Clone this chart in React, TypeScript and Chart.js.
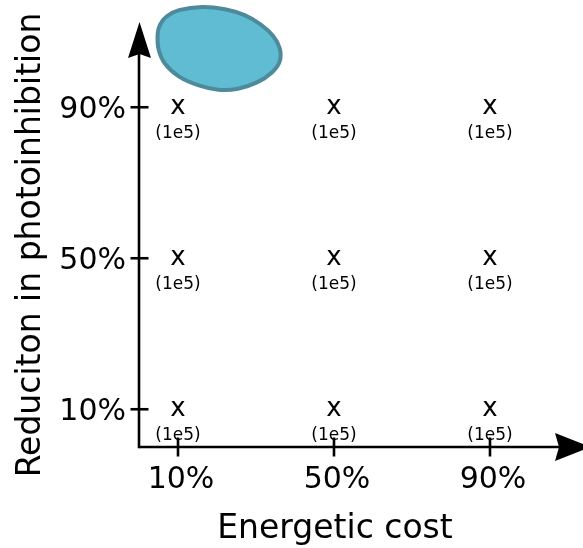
import React, { useEffect, useRef } from "react";
import { Chart, registerables } from "chart.js";

Chart.register(...registerables);

// ---- data ----
const xTickValues = [10, 50, 90];
const xTickLabels = ["10%", "50%", "90%"];
const yTickValues = [10, 50, 90];
const yTickLabels = ["10%", "50%", "90%"];
const pointX = [10, 50, 90, 10, 50, 90, 10, 50, 90];
const pointY = [90, 90, 90, 50, 50, 50, 10, 10, 10];
const markerText = "x";
const pointNotes = ["(1e5)", "(1e5)", "(1e5)", "(1e5)", "(1e5)", "(1e5)", "(1e5)", "(1e5)", "(1e5)"];
const xTitle = "Energetic cost";
const yTitle = "Reduciton in photoinhibition";
// blob outline in data units (drawn above the axes)
const blobX = [4.79, 5.44, 7.05, 10.26, 16.15, 22.05, 27.05, 31.15, 34.41, 36.08, 36.08, 34.0, 30.38, 25.38, 20.33, 15.33, 10.31, 6.67, 5.05];
const blobY = [109.53, 111.92, 114.04, 115.71, 116.56, 115.95, 114.38, 111.97, 108.87, 105.62, 102.17, 99.13, 96.64, 94.91, 94.65, 95.78, 98.12, 101.54, 105.19];

const X_MAX = 113.85;
const Y_MAX = 112.58;

const FONT = '"DejaVu Sans", "Liberation Sans", sans-serif';

const customDraw = {
  id: "customDraw",
  afterDraw(chart: any) {
    const ctx: CanvasRenderingContext2D = chart.ctx;
    const xs = chart.scales.x;
    const ys = chart.scales.y;
    const area = chart.chartArea;
    const x0 = xs.getPixelForValue(0);
    const y0 = ys.getPixelForValue(0);
    ctx.save();
    ctx.strokeStyle = "#000";
    ctx.fillStyle = "#000";
    ctx.lineWidth = 2.6;
    ctx.lineCap = "butt";

    // x axis line + arrow
    const xTip = area.right + 8;
    ctx.beginPath();
    ctx.moveTo(x0, y0);
    ctx.lineTo(xTip - 30, y0);
    ctx.stroke();
    ctx.beginPath();
    ctx.moveTo(xTip, y0);
    ctx.lineTo(xTip - 36, y0 - 14);
    ctx.lineTo(xTip - 32, y0);
    ctx.lineTo(xTip - 36, y0 + 14);
    ctx.closePath();
    ctx.fill();

    // y axis line + arrow
    const yTip = area.top;
    ctx.beginPath();
    ctx.moveTo(x0, y0 + 1.3);
    ctx.lineTo(x0, yTip + 30);
    ctx.stroke();
    ctx.beginPath();
    ctx.moveTo(x0 + 0.5, yTip);
    ctx.lineTo(x0 + 0.5 - 11.5, yTip + 36);
    ctx.lineTo(x0 + 0.5, yTip + 32);
    ctx.lineTo(x0 + 0.5 + 11.5, yTip + 36);
    ctx.closePath();
    ctx.fill();

    // x ticks
    ctx.font = `30px ${FONT}`;
    ctx.textAlign = "center";
    ctx.textBaseline = "alphabetic";
    xTickValues.forEach((v, i) => {
      const px = xs.getPixelForValue(v);
      ctx.beginPath();
      ctx.moveTo(px, y0 - 9.5);
      ctx.lineTo(px, y0 + 9.5);
      ctx.stroke();
      ctx.fillText(xTickLabels[i], px + 3, y0 + 41);
    });

    // y ticks
    ctx.textAlign = "right";
    yTickValues.forEach((v, i) => {
      const py = ys.getPixelForValue(v);
      ctx.beginPath();
      ctx.moveTo(x0 - 8.5, py);
      ctx.lineTo(x0 + 9.5, py);
      ctx.stroke();
      ctx.fillText(yTickLabels[i], x0 - 13, py + 11);
    });

    // axis titles
    ctx.font = `33px ${FONT}`;
    ctx.textAlign = "center";
    ctx.fillText(xTitle, 335, 538);
    ctx.save();
    ctx.translate(40, 245);
    ctx.rotate(-Math.PI / 2);
    ctx.fillText(yTitle, 0, 0);
    ctx.restore();

    // markers and notes
    const meta = chart.getDatasetMeta(0);
    meta.data.forEach((el: any, i: number) => {
      ctx.font = `26px ${FONT}`;
      ctx.textAlign = "center";
      ctx.fillText(markerText, el.x, el.y + 7);
      ctx.font = `17px ${FONT}`;
      ctx.fillText(pointNotes[i], el.x, el.y + 31);
    });

    // blob (closed Catmull-Rom spline)
    const pts = blobX.map((bx, i) => ({ x: xs.getPixelForValue(bx), y: ys.getPixelForValue(blobY[i]) }));
    const n = pts.length;
    ctx.beginPath();
    ctx.moveTo(pts[0].x, pts[0].y);
    for (let i = 0; i < n; i++) {
      const p0 = pts[(i - 1 + n) % n];
      const p1 = pts[i];
      const p2 = pts[(i + 1) % n];
      const p3 = pts[(i + 2) % n];
      const c1x = p1.x + (p2.x - p0.x) / 6;
      const c1y = p1.y + (p2.y - p0.y) / 6;
      const c2x = p2.x - (p3.x - p1.x) / 6;
      const c2y = p2.y - (p3.y - p1.y) / 6;
      ctx.bezierCurveTo(c1x, c1y, c2x, c2y, p2.x, p2.y);
    }
    ctx.closePath();
    ctx.fillStyle = "#5fbcd3";
    ctx.fill();
    ctx.lineWidth = 4;
    ctx.lineJoin = "round";
    ctx.strokeStyle = "#4d8a9b";
    ctx.stroke();

    ctx.restore();
  },
};

export default function App() {
  const ref = useRef<HTMLCanvasElement | null>(null);
  useEffect(() => {
    if (!ref.current) return;
    const chart = new Chart(ref.current, {
      type: "scatter",
      data: {
        datasets: [
          {
            data: pointX.map((x, i) => ({ x, y: pointY[i] })),
            pointRadius: 0,
            pointHoverRadius: 0,
            showLine: false,
          },
        ],
      },
      options: {
        animation: false,
        responsive: false,
        events: [],
        layout: { padding: { left: 139, right: 0, top: 22, bottom: 101 } },
        scales: {
          x: { type: "linear", min: 0, max: X_MAX, display: false },
          y: { type: "linear", min: 0, max: Y_MAX, display: false },
        },
        plugins: { legend: { display: false }, tooltip: { enabled: false } },
      },
      plugins: [customDraw],
    });
    return () => chart.destroy();
  }, []);
  return (
    <div style={{ position: "fixed", left: 0, top: 0, width: 583, height: 548, background: "#fff" }}>
      <canvas ref={ref} width={583} height={548} style={{ display: "block" }} />
    </div>
  );
}
